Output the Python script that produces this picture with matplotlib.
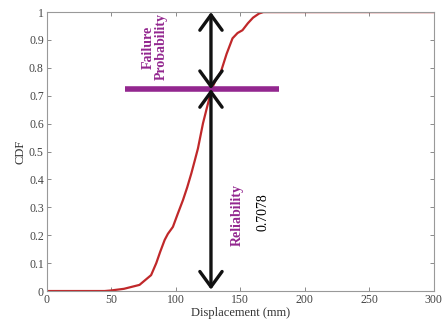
import numpy as np
import matplotlib.pyplot as plt

# CDF curve
disp = [0, 45, 50, 60, 72, 81, 85, 88, 91.5, 94, 97.9, 101.5, 105.7, 109, 112.2, 114.8, 117.3,
        121.2, 123.8, 126.4, 128.5, 131, 135.1, 139.5, 144.1, 148, 151.8, 156, 160, 164.7, 168,
        200, 250, 300]
cdf = [0, 0, 0.002, 0.008, 0.022, 0.057, 0.1, 0.14, 0.183, 0.205, 0.23, 0.275, 0.326, 0.372,
       0.422, 0.467, 0.511, 0.601, 0.649, 0.696, 0.73, 0.755, 0.786, 0.85, 0.906, 0.925, 0.935,
       0.96, 0.98, 0.995, 1, 1, 1, 1]

x_arrow = 127.4
y_cross = 0.724
hline_x = [61, 180]
reliability = '0.7078'

plt.rcParams['font.family'] = ['Liberation Serif', 'DejaVu Serif']
purple = '#93278f'

fig = plt.figure(figsize=(4.48, 3.27), dpi=100)
ax = fig.add_axes([0.104, 0.11, 0.864, 0.853])

ax.plot(disp, cdf, color='#c0282a', lw=1.6, zorder=2)
ax.plot(hline_x, [y_cross, y_cross], color=purple, lw=4, solid_capstyle='butt', zorder=3)

ap = dict(arrowstyle='<->,head_length=1.1,head_width=0.8', color='#111111', lw=2.4,
          shrinkA=0, shrinkB=0)
ax.annotate('', xy=(x_arrow, 1.0), xytext=(x_arrow, y_cross), arrowprops=ap, zorder=4)
ax.annotate('', xy=(x_arrow, y_cross), xytext=(x_arrow, 0.005), arrowprops=ap, zorder=4)

ax.text(84, 0.875, 'Failure\nProbability', rotation=90, color=purple, fontweight='bold',
        fontsize=10, ha='center', va='center', linespacing=1.0)
ax.text(147.7, 0.272, 'Reliability', rotation=90, color=purple, fontweight='bold',
        fontsize=10, ha='center', va='center')
ax.text(167.8, 0.284, reliability, rotation=90, color='black', fontsize=10,
        ha='center', va='center')

ax.set_xlim(0, 300)
ax.set_ylim(0, 1)
ax.set_xticks(np.arange(0, 301, 50))
ax.set_yticks(np.arange(0, 1.01, 0.1))
ax.set_yticklabels(['0', '0.1', '0.2', '0.3', '0.4', '0.5', '0.6', '0.7', '0.8', '0.9', '1'])
ax.tick_params(direction='in', top=True, right=True, length=3, width=0.6,
               color='#777777', labelcolor='#444444', labelsize=8.5, pad=2)
for s in ax.spines.values():
    s.set_color('#999999')
    s.set_linewidth(0.8)
ax.set_xlabel('Displacement (mm)', fontsize=9, color='#333333', labelpad=1)
ax.set_ylabel('CDF', fontsize=9, color='#333333', labelpad=2)

fig.savefig('out.png', dpi=100)
